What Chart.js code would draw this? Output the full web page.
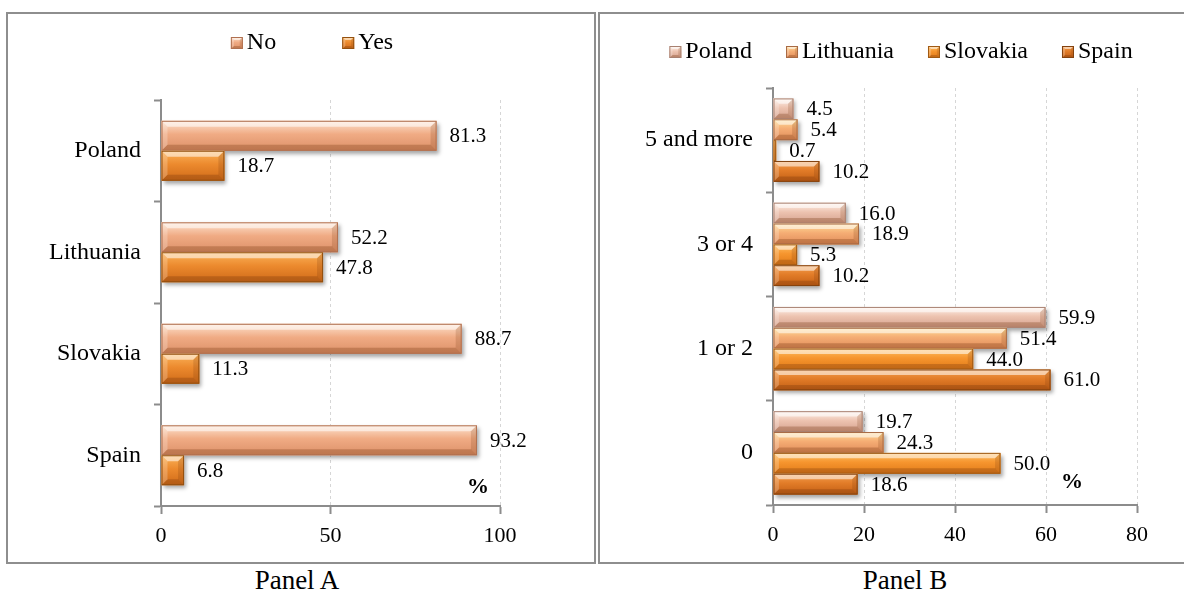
<!DOCTYPE html>
<html>
<head>
<meta charset="utf-8">
<script src="https://cdn.jsdelivr.net/npm/chart.js@4/dist/chart.umd.min.js"></script>
<style>
  html, body { margin: 0; padding: 0; background: #fff; width: 1184px; height: 592px; overflow: hidden; }
  .panel { position: absolute; border: 2px solid #8e8e8e; box-sizing: border-box; }
  #boxA { left: 6px; top: 12px; width: 590px; height: 552px; }
  #boxB { left: 598px; top: 12px; width: 588px; height: 552px; }
  canvas { position: absolute; }
  #cA { left: 8px; top: 14px; }
  #cB { left: 600px; top: 14px; }
  .cap { position: absolute; top: 565px; width: 200px; text-align: center; line-height: 30px;
         font-family: "Liberation Serif", "Times New Roman", serif; font-size: 27px; color: #000; }
</style>
</head>
<body>
<div class="panel" id="boxA"></div>
<div class="panel" id="boxB"></div>
<canvas id="cA" width="586" height="548"></canvas>
<canvas id="cB" width="582" height="548"></canvas>
<div class="cap" style="left:197px">Panel A</div>
<div class="cap" style="left:805px">Panel B</div>
<script>
// Panel A: having (Yes) or not having (No), by country, %
const panelACategories = ['Poland', 'Lithuania', 'Slovakia', 'Spain'];
const panelANo  = [81.3, 52.2, 88.7, 93.2];
const panelAYes = [18.7, 47.8, 11.3, 6.8];
const panelATicks = [0, 50, 100];

// Panel B: distribution by number, per country, %
const panelBCategories = ['5 and more', '3 or 4', '1 or 2', '0'];
const panelBPoland    = [4.5, 16.0, 59.9, 19.7];
const panelBLithuania = [5.4, 18.9, 51.4, 24.3];
const panelBSlovakia  = [0.7, 5.3, 44.0, 50.0];
const panelBSpain     = [10.2, 10.2, 61.0, 18.6];
const panelBTicks = [0, 20, 40, 60, 80];

const SERIF = '"Liberation Serif", "Times New Roman", serif';
const AXIS_GREY = '#8c8c8c';

const PAL = {
  no:        { top: '#fde3cf', mid: '#f0ab84', bot: '#dc9068', border: '#b07050' },
  yes:       { top: '#fbb35a', mid: '#ec8a2e', bot: '#cf6a18', border: '#93500f' },
  poland:    { top: '#fff3ec', mid: '#edc3b0', bot: '#d4a08c', border: '#a88070' },
  lithuania: { top: '#ffe09a', mid: '#f5ad74', bot: '#e08c5a', border: '#a86a44' },
  slovakia:  { top: '#ffc064', mid: '#f6952e', bot: '#e07a18', border: '#a05a14' },
  spain:     { top: '#f4a050', mid: '#e27c28', bot: '#c25e14', border: '#83420f' }
};

// beveled rectangle: face gradient + four chamfer facets + thin outline
function bevelRect(ctx, x0, y0, x1, y1, p) {
  const w = x1 - x0, h = y1 - y0;
  if (w <= 0 || h <= 0) return;
  const b = Math.max(1, Math.min(6, h * 0.26, w / 2));
  const g = ctx.createLinearGradient(0, y0, 0, y1);
  g.addColorStop(0, p.top);
  g.addColorStop(0.45, p.mid);
  g.addColorStop(1, p.bot);
  ctx.fillStyle = g;
  ctx.fillRect(x0, y0, w, h);
  const quad = (pts, c) => {
    ctx.beginPath();
    ctx.moveTo(pts[0][0], pts[0][1]);
    for (let i = 1; i < pts.length; i++) ctx.lineTo(pts[i][0], pts[i][1]);
    ctx.closePath();
    ctx.fillStyle = c;
    ctx.fill();
  };
  quad([[x0, y0], [x1, y0], [x1 - b, y0 + b], [x0 + b, y0 + b]], 'rgba(255,255,255,0.55)');
  quad([[x0, y1], [x1, y1], [x1 - b, y1 - b], [x0 + b, y1 - b]], 'rgba(110,50,10,0.28)');
  quad([[x0, y0], [x0 + b, y0 + b], [x0 + b, y1 - b], [x0, y1]], 'rgba(255,255,255,0.22)');
  quad([[x1, y0], [x1, y1], [x1 - b, y1 - b], [x1 - b, y0 + b]], 'rgba(110,50,10,0.18)');
  ctx.lineWidth = 1;
  ctx.strokeStyle = p.border;
  ctx.strokeRect(x0 + 0.5, y0 + 0.5, w - 1, h - 1);
}

function barRect(el) {
  const { x, y, base, height } = el.getProps(['x', 'y', 'base', 'height'], true);
  return { x0: Math.min(x, base), x1: Math.max(x, base), y0: y - height / 2, y1: y + height / 2 };
}

// shadows under the bars, bevel on top, value labels at the bar ends
const bevelBars = {
  id: 'bevelBars',
  beforeDatasetsDraw(chart) {
    const ctx = chart.ctx;
    ctx.save();
    ctx.shadowColor = 'rgba(0,0,0,0.35)';
    ctx.shadowBlur = 4;
    ctx.shadowOffsetX = 2;
    ctx.shadowOffsetY = 3;
    ctx.fillStyle = '#ffffff';
    chart.data.datasets.forEach((ds, i) => {
      chart.getDatasetMeta(i).data.forEach(el => {
        const r = barRect(el);
        ctx.fillRect(r.x0, r.y0, r.x1 - r.x0, r.y1 - r.y0);
      });
    });
    ctx.restore();
  },
  afterDatasetsDraw(chart, args, opts) {
    const ctx = chart.ctx;
    ctx.save();
    chart.data.datasets.forEach((ds, i) => {
      chart.getDatasetMeta(i).data.forEach(el => {
        const r = barRect(el);
        bevelRect(ctx, r.x0, r.y0, r.x1, r.y1, ds.palette);
      });
    });
    ctx.font = opts.font;
    ctx.fillStyle = '#000';
    ctx.textAlign = 'left';
    ctx.textBaseline = 'middle';
    chart.data.datasets.forEach((ds, i) => {
      chart.getDatasetMeta(i).data.forEach((el, j) => {
        const r = barRect(el);
        ctx.fillText(ds.data[j].toFixed(1), r.x1 + opts.offset, (r.y0 + r.y1) / 2 + 1);
      });
    });
    ctx.restore();
  }
};

// legend row with beveled swatches
const bevelLegend = {
  id: 'bevelLegend',
  afterDraw(chart, args, opts) {
    const ctx = chart.ctx;
    ctx.save();
    ctx.font = opts.font;
    ctx.textAlign = 'left';
    ctx.textBaseline = 'middle';
    const items = chart.data.datasets.map(ds => ({ text: ds.label, pal: ds.palette }));
    const widths = items.map(it => opts.box + opts.gap + ctx.measureText(it.text).width);
    const total = widths.reduce((a, b) => a + b, 0) + opts.spacing * (items.length - 1);
    let x = opts.centerX - total / 2;
    items.forEach((it, i) => {
      bevelRect(ctx, x, opts.y - opts.box / 2 + 1, x + opts.box, opts.y + opts.box / 2 + 1, it.pal);
      ctx.fillStyle = '#000';
      ctx.fillText(it.text, x + opts.box + opts.gap, opts.y + 1);
      x += widths[i] + opts.spacing;
    });
    ctx.restore();
  }
};

// bold unit sign in the lower right of the plot area
const unitMark = {
  id: 'unitMark',
  afterDraw(chart, args, opts) {
    const ctx = chart.ctx, a = chart.chartArea;
    ctx.save();
    ctx.font = 'bold 22px ' + SERIF;
    ctx.fillStyle = '#000';
    ctx.textAlign = 'center';
    ctx.textBaseline = 'middle';
    ctx.fillText('%', a.right - opts.dx, a.bottom - opts.dy);
    ctx.restore();
  }
};

function valueAxis(ticks, height) {
  return {
    type: 'linear',
    min: ticks[0],
    max: ticks[ticks.length - 1],
    afterBuildTicks: s => { s.ticks = ticks.map(v => ({ value: v })); },
    afterFit: s => { s.height = height; },
    grid: { color: '#d6d6d6', lineWidth: 1, drawTicks: true, tickLength: 8, tickColor: AXIS_GREY, tickWidth: 2 },
    border: { display: true, color: AXIS_GREY, width: 2, dash: [3, 3] },
    ticks: { color: '#000', font: { family: SERIF, size: 22 }, padding: 9 }
  };
}

function categoryAxis(width) {
  return {
    type: 'category',
    afterFit: s => { s.width = width; },
    grid: { drawOnChartArea: false, drawTicks: true, tickLength: 7, tickColor: AXIS_GREY, tickWidth: 2, offset: true },
    border: { display: true, color: AXIS_GREY, width: 2 },
    ticks: { color: '#000', font: { family: SERIF, size: 24 }, padding: 13 }
  };
}

function baseOptions(pad, xAxis, yAxis, legendOpts, unitOpts, catPct) {
  return {
    indexAxis: 'y',
    responsive: false,
    animation: false,
    events: [],
    layout: { padding: pad },
    datasets: { bar: { categoryPercentage: catPct, barPercentage: 1 } },
    scales: { x: xAxis, y: yAxis },
    plugins: {
      legend: { display: false },
      tooltip: { enabled: false },
      bevelBars: { font: '21px ' + SERIF, offset: 13 },
      bevelLegend: Object.assign({ font: '24px ' + SERIF, box: 12, gap: 4 }, legendOpts),
      unitMark: unitOpts
    }
  };
}

new Chart(document.getElementById('cA'), {
  type: 'bar',
  data: {
    labels: panelACategories,
    datasets: [
      { label: 'No',  data: panelANo,  palette: PAL.no,  backgroundColor: PAL.no.mid },
      { label: 'Yes', data: panelAYes, palette: PAL.yes, backgroundColor: PAL.yes.mid }
    ]
  },
  options: baseOptions(
    { left: 13, right: 94, top: 86, bottom: 0 },
    valueAxis(panelATicks, 56),
    categoryAxis(140),
    { centerX: 304, y: 28, spacing: 66 },
    { dx: 22, dy: 19 },
    0.59
  ),
  plugins: [bevelBars, bevelLegend, unitMark]
});

new Chart(document.getElementById('cB'), {
  type: 'bar',
  data: {
    labels: panelBCategories,
    datasets: [
      { label: 'Poland',    data: panelBPoland,    palette: PAL.poland,    backgroundColor: PAL.poland.mid },
      { label: 'Lithuania', data: panelBLithuania, palette: PAL.lithuania, backgroundColor: PAL.lithuania.mid },
      { label: 'Slovakia',  data: panelBSlovakia,  palette: PAL.slovakia,  backgroundColor: PAL.slovakia.mid },
      { label: 'Spain',     data: panelBSpain,     palette: PAL.spain,     backgroundColor: PAL.spain.mid }
    ]
  },
  options: baseOptions(
    { left: 13, right: 45, top: 74, bottom: 0 },
    valueAxis(panelBTicks, 57),
    categoryAxis(160),
    { centerX: 301, y: 37, spacing: 34 },
    { dx: 65, dy: 23 },
    0.8
  ),
  plugins: [bevelBars, bevelLegend, unitMark]
});
</script>
</body>
</html>
